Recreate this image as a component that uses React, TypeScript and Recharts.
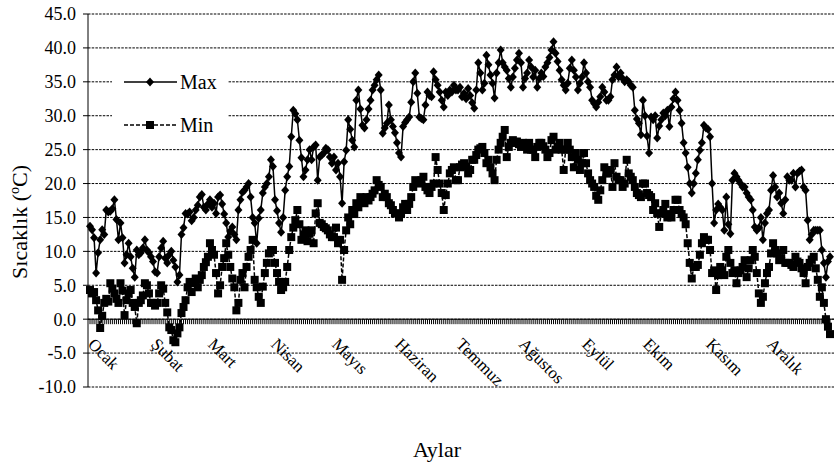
import React from 'react';
import { LineChart, Line, XAxis, YAxis, CartesianGrid, ReferenceLine, Legend } from 'recharts';

const months = ['Ocak', 'Şubat', 'Mart', 'Nisan', 'Mayıs', 'Haziran', 'Temmuz', 'Ağustos', 'Eylül', 'Ekim', 'Kasım', 'Aralık'];
const monthDays = [31, 28, 31, 30, 31, 30, 31, 31, 30, 31, 30, 31];
const yTicks = [-10, -5, 0, 5, 10, 15, 20, 25, 30, 35, 40, 45];

// daily maximum temperatures, one row per month
const maxTemps = [
  13.7, 13.2, 12, 6.8, 9.8, 11.7, 13.2, 12.5, 16.1, 15.8, 15.9, 16.3, 17.6, 14.7, 11.7, 14.2, 12, 8.3, 9.5, 11.2, 9.2, 7.5, 6.2, 10.2, 9.5, 9.8, 10.5, 11.7, 10.2, 9.8, 9.2,
  8.5, 7, 6.8, 9.2, 10.5, 11.5, 9, 8.3, 9.5, 10, 8.7, 7.7, 5.5, 6.5, 12.5, 13.5, 15.6, 15.5, 15.8, 14.5, 15, 16.1, 16.8, 18, 18.4, 16.5, 16.1, 17,
  17.6, 16.5, 17.1, 15.6, 18, 18.3, 17, 15.5, 14.2, 12.1, 13, 13.6, 12.5, 11.7, 16.1, 17.6, 18.7, 19, 19.5, 20, 18, 15, 14.2, 11.2, 14.9, 16.1, 18.6, 19.5, 20, 21, 23.5,
  22.5, 17.6, 16, 14.2, 12.8, 15, 19, 21, 22.5, 26.9, 30.8, 30.3, 29.4, 26.4, 23.8, 21, 22, 23.5, 25, 23.5, 25.4, 25.7, 20.5, 23.9, 24.2, 24.5, 25.2, 25, 23.9, 23,
  23.9, 22, 23, 21, 17.1, 23.2, 24.9, 29.4, 28, 26.4, 25.4, 32.3, 33.8, 31, 28.6, 28.2, 29.4, 31, 32.3, 33.8, 34.5, 35.3, 36, 33.8, 27.4, 28.2, 28.9, 31.6, 29.4, 28.4, 27.5,
  26, 24.5, 23.9, 28.4, 29, 29.4, 29.8, 32, 35, 36.3, 33.3, 29.8, 29.6, 29.4, 31.6, 33.5, 33, 32.8, 36.5, 35.3, 34.5, 33.5, 32.3, 31.3, 33.5, 33, 33.8, 33.5, 34.5, 33.8,
  33.8, 34.2, 32.8, 33.3, 32.5, 34, 33, 31.9, 31.1, 33.8, 37.8, 36.3, 33.8, 34.8, 38.9, 37.5, 36, 34.8, 32.6, 36.3, 37.8, 39.7, 37.8, 37.2, 36.7, 35.5, 34.2, 35.7, 37, 38.2, 39.2,
  37.8, 34.2, 35.5, 36.3, 38.2, 37.2, 35.7, 36.7, 34.2, 35.5, 36.3, 35.8, 37.2, 37.8, 38.6, 39.7, 40.9, 39.2, 38, 36.7, 35.3, 34.5, 33.8, 34.8, 37, 38.2, 36.7, 35.7, 33.8, 34.8, 35.7,
  37.8, 36.3, 35, 34.2, 32.3, 31.8, 31.3, 32, 32.8, 34.2, 33.5, 32.3, 32.3, 32.8, 35.3, 36, 37.2, 35.7, 36.3, 35.5, 35, 35.3, 35, 34.5, 34.2, 30.8, 29.5, 28.9, 27.2, 32.3,
  30, 27, 24.5, 29.8, 29.4, 30, 26.7, 28.5, 29.4, 30.4, 30, 30.8, 28.4, 31.3, 32.5, 33.5, 32.3, 30.8, 28.9, 26, 24.5, 22.4, 20, 18.6, 20, 21.5, 23.5, 24.9, 26, 28.6, 28.2,
  28, 26.9, 20, 14.2, 16.1, 17, 16.5, 16.1, 13.1, 18, 14, 12.6, 20.5, 21.5, 21, 20.5, 20, 19.5, 19.5, 18.6, 18, 17.6, 16.1, 13.6, 13.1, 13.5, 15, 11.7, 14.2, 15.6,
  16.1, 19, 21.2, 19.5, 18, 18.6, 17.1, 15.6, 17.6, 21, 20.5, 20.5, 21.5, 19.5, 21.5, 21.8, 22, 19.5, 19, 14.6, 11.7, 12.5, 13.1, 13.1, 13.1, 13.1, 10.2, 8.3, 6.2, 8.5, 9.2,
];

// daily minimum temperatures, one row per month
const minTemps = [
  4.3, 3.8, 4, 2.8, 1.3, -1.3, 0.5, 2.4, 3, 2.6, 5.3, 4.5, 3.8, 3, 2.4, 5.3, 4.2, 0.6, 2.8, 3.8, 4.3, 2.4, 1.8, -0.6, 2.4, 2.8, 3.5, 5.3, 5, 3.8, 2.4,
  2.4, 2, 2.4, 3.8, 5, 4.5, 2.4, 1, -1.2, -1.6, -3.1, -3.4, -2.1, -1.2, 0.9, 1.8, 2.8, 4.7, 5.5, 4, 5.3, 6, 4.7, 5.8, 6.5, 7.7, 8.4, 9.2,
  11.2, 10.2, 9.5, 6.8, 3.8, 5, 7.7, 9, 11.2, 9.5, 7.7, 6, 4.7, 1.3, 2.4, 5.8, 6.8, 4.7, 7.7, 9.2, 10.2, 11.7, 5.8, 4.7, 3.3, 2.4, 4.8, 6.8, 8.3, 9.7, 10.2,
  10.2, 8.3, 6.8, 5.5, 4.3, 4.7, 5.5, 7.7, 10.2, 12.1, 13.5, 14.6, 16.1, 14, 11.7, 12.5, 13.1, 11.5, 12.6, 13.1, 11.2, 15.6, 17.1, 14.2, 14, 13.6, 13.4, 13.1, 12.5, 12.1,
  12.1, 13.5, 11.2, 11.7, 5.8, 10.2, 13.1, 15, 14, 16.1, 15.5, 17.1, 16.5, 18, 17.5, 17.1, 18, 17.5, 18, 18.5, 19, 20.5, 19.8, 19.5, 18, 18.5, 18, 17.1, 16.8, 16.1, 15.6,
  15.6, 15, 15.5, 16.5, 17, 16.1, 17, 18, 19.5, 20.5, 20.3, 20, 20.5, 21, 19.5, 19, 18.6, 19.5, 20, 23.9, 22, 20, 18.6, 16.1, 18.3, 20, 21.5, 22, 22.4, 20.5,
  20.5, 22.4, 22.8, 23, 22.5, 21.5, 22, 23.5, 23.5, 24.2, 25, 25.2, 25.4, 24.5, 23, 23.5, 22.4, 21.5, 20.5, 23.5, 25, 26, 26.9, 27.9, 23.9, 25.4, 26, 26.4, 26, 26.2, 25.8,
  25.4, 26, 25.5, 25, 26, 25, 25, 23.9, 25.4, 26, 26, 25.5, 25, 23.9, 24.5, 26.4, 26.9, 25, 25.4, 26, 25, 22, 25, 26, 25, 23.9, 22.4, 24.5, 23.5, 22, 23,
  24.5, 23, 21.5, 20.5, 20, 19.5, 18.2, 17.6, 19, 20.5, 22.4, 21.5, 21.5, 22, 19.5, 23, 21, 20.5, 20.5, 19.5, 20, 23.5, 21.5, 21, 20.5, 19.5, 18.6, 18.3, 18, 20,
  20, 18.6, 18.3, 18, 16.1, 17.1, 15.6, 13.6, 15.6, 16.1, 17, 15, 15.5, 15, 16.1, 17.6, 17.6, 16.1, 15.5, 15, 14, 11.2, 8.3, 6, 7.7, 7.7, 8, 9.5, 11.2, 12.1, 11.7,
  11.7, 10.2, 6.8, 7.2, 4.3, 6.5, 7.7, 7.2, 6.5, 9.2, 10.2, 8.3, 6.8, 7.2, 5.3, 6.8, 7.2, 7.7, 8.7, 6.2, 7.5, 8.7, 10.2, 9.2, 6.8, 3.8, 2.4, 3.3, 5.3, 6.8,
  7.7, 9.7, 11.2, 10.2, 9.7, 8.7, 9, 10.2, 8.3, 8.3, 8.3, 8, 7.7, 9.2, 8.5, 8.3, 7.5, 6.8, 5.3, 7.7, 8.3, 8.8, 9.2, 7.5, 5.8, 3.3, 4.7, 2.4, 0, -1.1, -2.2,
];

const monthStarts: number[] = [];
monthDays.reduce((acc, n) => {
  monthStarts.push(acc);
  return acc + n;
}, 1);

const days = maxTemps.map((_, i) => i + 1);
const data = days.map((d, i) => ({ day: d, max: maxTemps[i], min: minTemps[i] }));

const FONT = "'Liberation Serif', 'Times New Roman', serif";
const serif = { fontFamily: FONT };
const TOP = 14;
const PLOT_BOTTOM = 387;
const Y_MIN = -10;
const Y_MAX = 45;
const ZERO_Y = TOP + ((PLOT_BOTTOM - TOP) * (Y_MAX - 0)) / (Y_MAX - Y_MIN);

const diamondPath = (x: number, y: number) => `M${x},${y - 4.5}L${x + 4},${y}L${x},${y + 4.5}L${x - 4},${y}Z`;

const DiamondDot = (p: any) => {
  if (p.cx == null || p.cy == null) return <g key={`mx-${p.index}`} />;
  return <path key={`mx-${p.index}`} d={diamondPath(p.cx, p.cy)} fill="#000" />;
};

const SquareDot = (p: any) => {
  if (p.cx == null || p.cy == null) return <g key={`mn-${p.index}`} />;
  return <rect key={`mn-${p.index}`} x={p.cx - 4} y={p.cy - 4} width={8} height={8} fill="#000" />;
};

const DayTick = (props: any) => {
  const { x, payload } = props;
  const mi = monthStarts.indexOf(payload.value);
  const lx = x - 3;
  const ly = ZERO_Y + 26;
  return (
    <g>
      <line x1={x} x2={x} y1={ZERO_Y} y2={ZERO_Y + 5} stroke="#000" strokeWidth={1} />
      {mi >= 0 && (
        <text x={lx} y={ly} transform={`rotate(45 ${lx} ${ly})`} fontSize={17} style={serif} fill="#000" textAnchor="start">
          {months[mi]}
        </text>
      )}
    </g>
  );
};

const XTitle = () => (
  <text x={437} y={457} textAnchor="middle" fontSize={22} style={serif} fill="#000">
    Aylar
  </text>
);

const YTitle = () => (
  <text x={27} y={222} transform="rotate(-90 27 222)" textAnchor="middle" fontSize={22} style={serif} fill="#000">
    Sıcaklık (<tspan fontSize={14} dy={-8}>o</tspan>
    <tspan dy={8}>C)</tspan>
  </text>
);

const LegendBox = () => (
  <svg width={116} height={80} style={{ display: 'block' }}>
    <line x1={12} x2={65} y1={20} y2={20} stroke="#000" strokeWidth={1.5} />
    <path d={diamondPath(38, 20)} fill="#000" />
    <text x={68} y={20} dy="0.35em" fontSize={20} style={serif} fill="#000">
      Max
    </text>
    <line x1={12} x2={65} y1={63} y2={63} stroke="#000" strokeWidth={1.5} strokeDasharray="4 2" />
    <rect x={34} y={59} width={8} height={8} fill="#000" />
    <text x={68} y={63} dy="0.35em" fontSize={20} style={serif} fill="#000">
      Min
    </text>
  </svg>
);

export default function App() {
  return (
    <div style={{ position: 'absolute', left: 0, top: 0, background: '#fff', fontFamily: FONT }}>
      <LineChart width={835} height={468} data={data} margin={{ top: TOP, right: 1, bottom: 0, left: 0 }} style={serif}>
        <CartesianGrid vertical={false} stroke="#000" strokeDasharray="2.5 1.2" />
        <XAxis
          dataKey="day"
          type="number"
          domain={[1, 365]}
          ticks={days}
          interval={0}
          tick={(p: any) => <DayTick {...p} />}
          tickLine={false}
          axisLine={false}
          height={81}
          padding={{ left: 2, right: 4 }}
          label={<XTitle />}
        />
        <YAxis
          type="number"
          domain={[Y_MIN, Y_MAX]}
          ticks={yTicks}
          interval={0}
          width={88}
          tickFormatter={(v: number) => v.toFixed(1)}
          tick={{ fontSize: 18, fill: '#000', style: serif }}
          tickSize={5}
          tickMargin={7}
          tickLine={{ stroke: '#000' }}
          axisLine={{ stroke: '#000' }}
          label={<YTitle />}
        />
        <ReferenceLine y={0} stroke="#000" strokeWidth={1} />
        <Legend
          layout="vertical"
          align="center"
          verticalAlign="middle"
          content={() => <LegendBox />}
          wrapperStyle={{ left: 112, top: 62, width: 116, height: 80, backgroundColor: '#fff' }}
        />
        <Line dataKey="max" stroke="#000" strokeWidth={1.5} dot={DiamondDot} activeDot={false} isAnimationActive={false} />
        <Line dataKey="min" stroke="#000" strokeWidth={1.5} strokeDasharray="4 2" dot={SquareDot} activeDot={false} isAnimationActive={false} />
      </LineChart>
    </div>
  );
}
